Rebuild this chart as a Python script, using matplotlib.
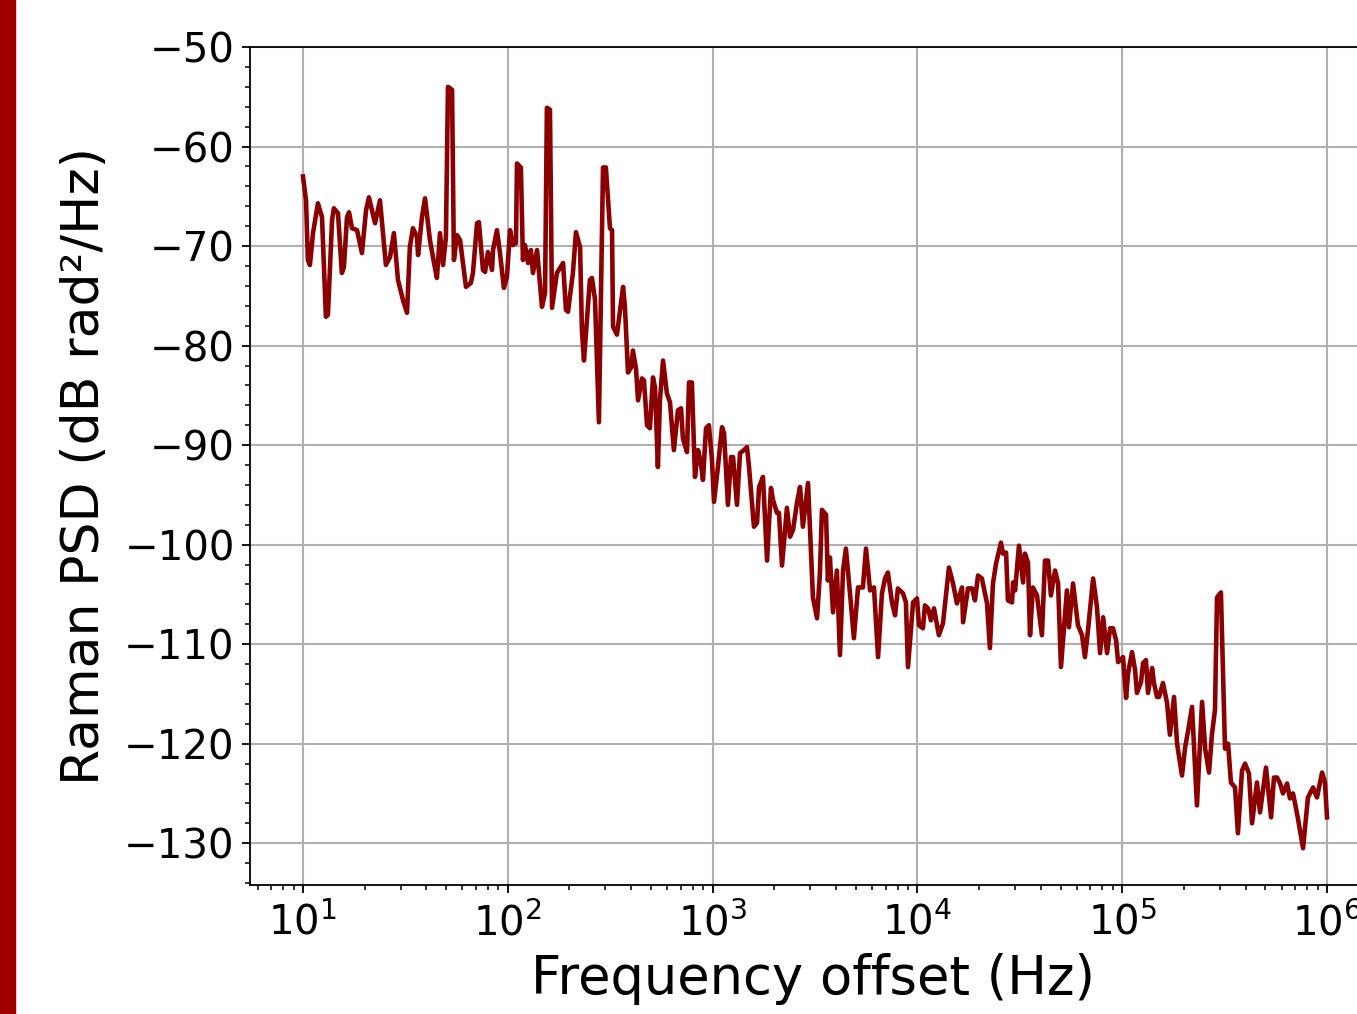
import matplotlib
matplotlib.use("Agg")
import matplotlib.pyplot as plt
import numpy as np
from matplotlib.ticker import AutoMinorLocator
from matplotlib.patches import Rectangle

# log10 of frequency offset (Hz)
log_freq = [
    1.000, 1.015, 1.024, 1.034, 1.049, 1.073, 1.093, 1.112, 1.122, 1.142,
    1.151, 1.171, 1.190, 1.200, 1.215, 1.225, 1.239, 1.264, 1.288, 1.308,
    1.322, 1.352, 1.376, 1.405, 1.425, 1.444, 1.464, 1.488, 1.508, 1.522,
    1.537, 1.557, 1.562, 1.581, 1.596, 1.620, 1.640, 1.654, 1.669, 1.684,
    1.698, 1.708, 1.728, 1.737, 1.752, 1.767, 1.796, 1.820, 1.830, 1.850,
    1.859, 1.879, 1.889, 1.903, 1.923, 1.928, 1.947, 1.962, 1.981, 1.996,
    2.011, 2.025, 2.040, 2.045, 2.064, 2.074, 2.084, 2.099, 2.113, 2.123,
    2.143, 2.167, 2.182, 2.191, 2.206, 2.216, 2.240, 2.270, 2.284, 2.294,
    2.318, 2.333, 2.353, 2.362, 2.372, 2.401, 2.411, 2.426, 2.445, 2.465,
    2.479, 2.499, 2.509, 2.514, 2.533, 2.563, 2.572, 2.587, 2.602, 2.611,
    2.626, 2.636, 2.655, 2.665, 2.680, 2.694, 2.709, 2.719, 2.733, 2.743,
    2.758, 2.777, 2.792, 2.811, 2.831, 2.846, 2.855, 2.875, 2.885, 2.899,
    2.914, 2.929, 2.943, 2.953, 2.968, 2.982, 2.997, 3.007, 3.026, 3.046,
    3.056, 3.075, 3.090, 3.100, 3.119, 3.134, 3.153, 3.168, 3.178, 3.202,
    3.217, 3.227, 3.246, 3.266, 3.285, 3.295, 3.314, 3.324, 3.339, 3.363,
    3.378, 3.393, 3.412, 3.427, 3.441, 3.466, 3.490, 3.510, 3.524, 3.534,
    3.554, 3.563, 3.573, 3.588, 3.607, 3.622, 3.637, 3.651, 3.671, 3.690,
    3.710, 3.734, 3.749, 3.769, 3.788, 3.808, 3.827, 3.842, 3.856, 3.876,
    3.891, 3.905, 3.930, 3.944, 3.954, 3.979, 3.998, 4.008, 4.027, 4.037,
    4.052, 4.066, 4.081, 4.105, 4.125, 4.154, 4.174, 4.193, 4.218, 4.223,
    4.247, 4.267, 4.281, 4.296, 4.315, 4.340, 4.354, 4.369, 4.384, 4.408,
    4.418, 4.433, 4.442, 4.462, 4.467, 4.477, 4.496, 4.516, 4.525, 4.540,
    4.550, 4.564, 4.584, 4.608, 4.623, 4.638, 4.652, 4.672, 4.687, 4.701,
    4.730, 4.740, 4.760, 4.784, 4.804, 4.818, 4.833, 4.858, 4.877, 4.892,
    4.907, 4.926, 4.941, 4.955, 4.970, 4.980, 5.004, 5.019, 5.029, 5.048,
    5.063, 5.072, 5.092, 5.102, 5.116, 5.126, 5.146, 5.155, 5.170, 5.180,
    5.199, 5.219, 5.233, 5.253, 5.268, 5.292, 5.307, 5.321, 5.341, 5.365,
    5.390, 5.405, 5.424, 5.438, 5.453, 5.463, 5.482, 5.502, 5.517, 5.531,
    5.551, 5.565, 5.585, 5.600, 5.619, 5.634, 5.658, 5.673, 5.702, 5.727,
    5.741, 5.756, 5.771, 5.785, 5.805, 5.819, 5.834, 5.844, 5.858, 5.883,
    5.907, 5.932, 5.951, 5.976, 5.990, 6.000,
]

# Raman phase noise PSD (dB rad^2/Hz)
psd_db = [
    -63.0, -65.4, -71.4, -71.9, -68.7, -65.7, -67.1, -77.1, -76.9, -67.4,
    -66.2, -66.7, -72.7, -72.1, -67.1, -66.6, -68.2, -68.4, -70.7, -66.4,
    -65.1, -67.7, -65.4, -71.9, -71.1, -68.7, -73.4, -75.4, -76.7, -70.1,
    -68.2, -69.1, -70.9, -67.1, -65.2, -69.4, -71.7, -73.2, -68.7, -71.9,
    -69.1, -54.0, -54.3, -71.4, -68.9, -69.4, -74.1, -73.7, -72.7, -67.7,
    -67.6, -72.4, -72.6, -70.6, -72.4, -70.4, -68.4, -70.7, -74.2, -73.1,
    -68.4, -69.9, -69.7, -61.7, -62.1, -71.4, -69.9, -71.7, -70.4, -72.7,
    -70.4, -76.1, -74.7, -56.1, -56.3, -76.2, -72.7, -71.7, -76.4, -76.6,
    -72.7, -68.6, -70.1, -78.4, -81.5, -73.4, -73.2, -75.4, -87.7, -62.1,
    -62.1, -68.2, -68.4, -78.1, -78.9, -74.1, -76.1, -82.7, -82.2, -80.5,
    -82.3, -85.5, -83.3, -83.5, -88.0, -88.3, -83.2, -84.2, -92.2, -85.5,
    -81.5, -84.8, -85.7, -90.5, -86.5, -86.3, -89.3, -90.7, -83.7, -83.7,
    -93.2, -90.5, -91.8, -93.5, -88.3, -88.0, -91.5, -95.7, -92.2, -88.2,
    -88.8, -96.0, -91.2, -91.2, -96.0, -90.8, -90.5, -90.2, -92.2, -98.2,
    -97.8, -94.2, -93.2, -101.6, -94.3, -95.5, -96.8, -96.8, -102.1, -96.3,
    -99.2, -98.5, -95.8, -94.2, -98.2, -93.8, -105.3, -107.4, -102.9, -96.5,
    -97.0, -103.6, -101.3, -106.8, -102.6, -111.1, -102.6, -100.4, -104.9, -109.4,
    -104.3, -104.3, -100.4, -104.6, -104.3, -111.3, -104.9, -103.4, -102.8, -105.8,
    -107.1, -104.4, -104.9, -105.8, -112.3, -105.8, -105.4, -108.1, -108.4, -106.1,
    -106.4, -107.6, -106.4, -109.1, -107.9, -102.3, -103.9, -105.9, -104.3, -107.8,
    -104.4, -104.4, -105.6, -103.1, -103.4, -105.9, -110.4, -103.9, -101.9, -99.8,
    -100.9, -100.8, -105.6, -105.8, -103.8, -104.6, -100.1, -103.8, -100.9, -101.8,
    -109.1, -104.3, -105.1, -109.1, -101.6, -101.6, -105.1, -102.6, -103.9, -112.3,
    -104.6, -108.3, -103.9, -108.1, -109.1, -111.3, -108.6, -103.4, -106.3, -110.9,
    -107.3, -110.9, -108.4, -108.4, -109.6, -111.8, -111.3, -115.4, -112.9, -110.8,
    -112.6, -114.9, -113.8, -111.9, -111.6, -114.9, -112.4, -113.9, -115.3, -115.3,
    -113.9, -115.9, -119.1, -115.3, -120.0, -123.2, -120.4, -118.8, -116.3, -126.2,
    -115.8, -120.5, -122.9, -119.1, -116.6, -105.3, -104.8, -120.5, -120.0, -123.9,
    -124.4, -129.0, -122.7, -122.0, -123.0, -128.0, -123.9, -126.9, -122.4, -127.4,
    -123.4, -123.4, -124.0, -125.0, -124.0, -125.5, -125.0, -126.0, -127.5, -130.5,
    -125.4, -124.4, -125.4, -122.9, -123.9, -127.4,
]

freq = 10 ** np.array(log_freq)

fig = plt.figure(figsize=(13.57, 10.14), dpi=100)
# the axes run past the right edge of the figure (cropped look)
ax = fig.add_axes([0.1842, 0.1272, 0.8301, 0.8264])

ax.plot(freq, psd_db, color="#8b0000", linewidth=3.3)
ax.set_xscale("log")
ax.set_xlim(10 ** 0.7412, 10 ** 6.2412)
ax.set_ylim(-134.2, -50)
ax.set_yticks(np.arange(-130, -49, 10))
ax.yaxis.set_minor_locator(AutoMinorLocator(5))
ax.grid(True, which="major", color="#b0b0b0", linewidth=1.5)

for s in ax.spines.values():
    s.set_linewidth(1.3)
ax.tick_params(which="major", length=6, width=1.3, labelsize=29, pad=5)
ax.tick_params(which="minor", length=3.5, width=1.1)
ax.tick_params(axis="x", which="major", pad=7)

ax.set_xlabel("Frequency offset (Hz)", fontsize=38, labelpad=6)
ax.set_ylabel("Raman PSD (dB rad²/Hz)", fontsize=37.5, labelpad=10)

# red strip at the left edge
fig.patches.append(Rectangle((0, 0), 15 / 1357, 1, transform=fig.transFigure,
                             color="#a00000", zorder=0))

fig.savefig("out.png", dpi=100)
